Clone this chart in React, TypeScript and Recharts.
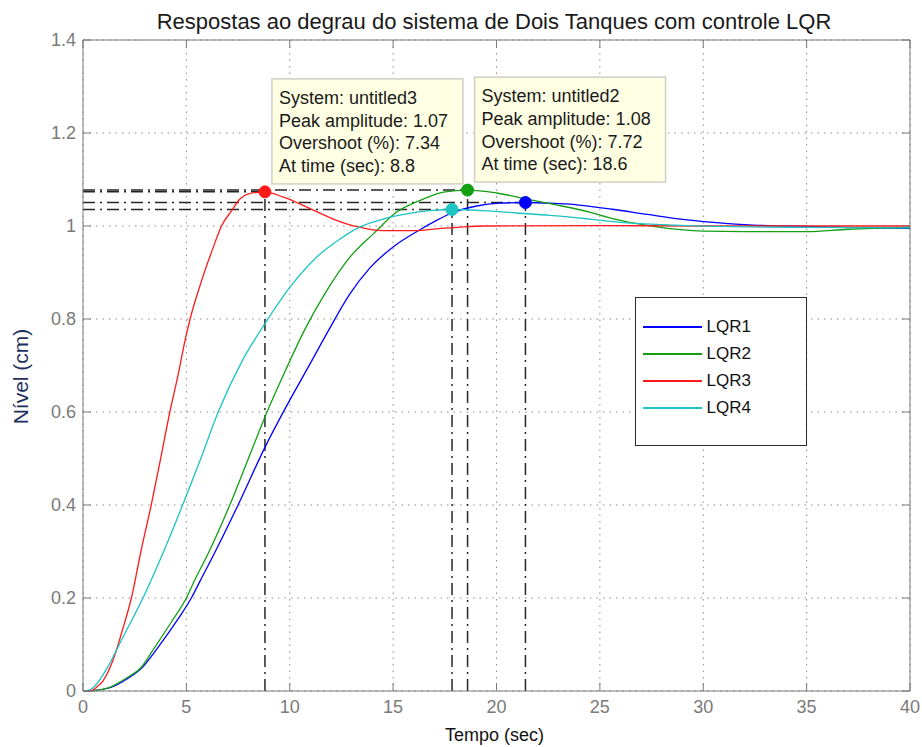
import {
  ComposedChart, Line, XAxis, YAxis, CartesianGrid, ReferenceLine, ReferenceDot, Legend,
} from 'recharts';

const FONT = '"Liberation Sans", Arial, Helvetica, sans-serif';
const PLOT = { left: 83, right: 910, top: 40, bottom: 691 };

const timeTicks = [0, 5, 10, 15, 20, 25, 30, 35, 40];
const levelTicks = [0, 0.2, 0.4, 0.6, 0.8, 1, 1.2, 1.4];

// step responses, [time (s), level (cm)]
const lqr1: [number, number][] = [
  [0, 0], [0.5, 0.001], [1.3, 0.007], [2.2, 0.028], [2.85, 0.05], [3.63, 0.094], [4.6, 0.155],
  [5.24, 0.2], [5.68, 0.238], [6.4, 0.3], [7.5, 0.4], [8.8, 0.524], [9.75, 0.605], [11, 0.705],
  [11.87, 0.775], [12.91, 0.854], [13.88, 0.91], [15, 0.955], [16.3, 0.992], [17.1, 1.012],
  [17.9, 1.029], [19.04, 1.043], [20.17, 1.049], [21.4, 1.0505], [22.59, 1.049], [24, 1.045],
  [25.6, 1.036], [27.3, 1.025], [28.9, 1.015], [30.5, 1.008], [32.4, 1.002], [34, 1.0],
  [36, 0.998], [38, 0.996], [40, 0.995],
];
const lqr2: [number, number][] = [
  [0, 0], [0.5, 0.001], [1.29, 0.008], [2.18, 0.03], [2.8, 0.05], [3.47, 0.094], [4.3, 0.15],
  [5, 0.2], [5.4, 0.238], [6.1, 0.3], [7.1, 0.4], [8, 0.5], [8.9, 0.6], [9.8, 0.69], [10.7, 0.775],
  [11.79, 0.861], [12.91, 0.933], [14.04, 0.983], [15.17, 1.03], [16.46, 1.058], [17.43, 1.073],
  [18.6, 1.0772], [20, 1.071], [21.46, 1.058], [22.59, 1.048], [24.5, 1.03], [25.6, 1.016],
  [26.8, 1.005], [27.9, 0.997], [28.9, 0.992], [30, 0.989], [32, 0.988], [35, 0.988],
  [37, 0.993], [40, 0.997],
];
const lqr3: [number, number][] = [
  [0, 0], [0.35, 0], [0.65, 0.008], [0.97, 0.022], [1.45, 0.066], [1.9, 0.13], [2.34, 0.2],
  [2.8, 0.3], [3.3, 0.4], [3.8, 0.51], [4.2, 0.6], [4.6, 0.68], [4.93, 0.753], [5.18, 0.8],
  [5.74, 0.883], [6.3, 0.954], [6.7, 1.0], [7.19, 1.033], [7.59, 1.058], [8, 1.069], [8.8, 1.0734],
  [9.7, 1.062], [11, 1.037], [12.1, 1.015], [13.2, 0.999], [14.5, 0.99], [16.1, 0.99],
  [17.1, 0.994], [18.1, 0.997], [19.4, 1.0], [25, 1.001], [30, 1.0], [40, 1.0],
];
const lqr4: [number, number][] = [
  [0, 0], [0.3, 0.002], [0.6, 0.012], [1.2, 0.052], [1.9, 0.113], [2.9, 0.2], [3.9, 0.3],
  [4.82, 0.4], [5.7, 0.5], [6.54, 0.6], [7.7, 0.71], [8.8, 0.79], [10, 0.868], [11.3, 0.933],
  [12.43, 0.972], [13.4, 0.998], [14.52, 1.015], [15.65, 1.026], [16.78, 1.033], [17.85, 1.0355],
  [19.36, 1.033], [20.97, 1.028], [22.59, 1.023], [24.5, 1.015], [26, 1.008], [28, 1.003],
  [31, 0.999], [35, 0.997], [40, 0.996],
];

const names = ['LQR1', 'LQR2', 'LQR3', 'LQR4'];
const systems = ['untitled1', 'untitled2', 'untitled3', 'untitled4'];
const colors = ['#0000ff', '#12a012', '#ff1a1a', '#1cc4c4'];
const peakTimes = [21.4, 18.6, 8.8, 17.85];
const peakLevels = [1.0505, 1.0772, 1.0734, 1.0355];
const showTip = [false, true, true, false];

const series = [lqr1, lqr2, lqr3, lqr4].map((pts, i) => ({
  name: names[i],
  system: systems[i],
  color: colors[i],
  data: pts.map(([t, y]) => ({ t, y })),
  peakT: peakTimes[i],
  peakY: peakLevels[i],
  tip: showTip[i],
}));

const XTick = ({ x, payload }: any) => (
  <g>
    <line x1={x} x2={x} y1={PLOT.bottom} y2={PLOT.bottom - 8} stroke="#7a7a7a" />
    <line x1={x} x2={x} y1={PLOT.top} y2={PLOT.top + 8} stroke="#7a7a7a" />
    <text x={x} y={PLOT.bottom + 22} textAnchor="middle" fontSize={18} fill="#7a7a7a" fontFamily={FONT}>
      {payload.value}
    </text>
  </g>
);

const YTick = ({ y, payload }: any) => (
  <g>
    <line x1={PLOT.left} x2={PLOT.left + 8} y1={y} y2={y} stroke="#7a7a7a" />
    <line x1={PLOT.right} x2={PLOT.right - 8} y1={y} y2={y} stroke="#7a7a7a" />
    <text x={PLOT.left - 7} y={y} dy="0.36em" textAnchor="end" fontSize={18} fill="#7a7a7a" fontFamily={FONT}>
      {payload.value}
    </text>
  </g>
);

// yellow data-tip box anchored up-right of the peak marker
const DataTip = ({ viewBox, s }: any) => {
  const cx = viewBox.x + viewBox.width / 2;
  const cy = viewBox.y + viewBox.height / 2;
  const w = 191;
  const h = 105;
  const left = cx + 7;
  const top = cy - 8 - h;
  const rows = [
    `System: ${s.system}`,
    `Peak amplitude: ${s.peakY.toFixed(2)}`,
    `Overshoot (%): ${((s.peakY - 1) * 100).toFixed(2)}`,
    `At time (sec): ${s.peakT}`,
  ];
  return (
    <g>
      <rect x={left} y={top} width={w} height={h} fill="#ffffe3" stroke="#cfcfc4" strokeWidth={1.5} />
      {rows.map((r, i) => (
        <text key={i} x={left + 7} y={top + 25 + i * 22.7} fontSize={18} fill="#1a1a1a" fontFamily={FONT}>
          {r}
        </text>
      ))}
    </g>
  );
};

const LegendBox = () => (
  <div style={{
    width: 172, height: 149, boxSizing: 'border-box', border: '1.5px solid #2a2a2a',
    background: '#fff', paddingTop: 15, fontFamily: FONT,
  }}>
    {series.map((s) => (
      <div key={s.name} style={{ display: 'flex', alignItems: 'center', height: 27 }}>
        <div style={{ marginLeft: 6.5, width: 59, height: 2, background: s.color }} />
        <span style={{ marginLeft: 5, fontSize: 17, color: '#111', lineHeight: '27px' }}>{s.name}</span>
      </div>
    ))}
  </div>
);

export default function App() {
  const dashed = '12 5 2 5';
  return (
    <div style={{ position: 'absolute', left: 0, top: 0, width: 922, height: 747, background: '#fff' }}>
      <ComposedChart width={922} height={747} margin={{ top: 40, right: 12, bottom: 0, left: 0 }}>
        <CartesianGrid stroke="#8c8c8c" strokeDasharray="1.5 5" />
        <XAxis
          type="number" dataKey="t" domain={[0, 40]} ticks={timeTicks} height={56}
          stroke="#7a7a7a" tickLine={false} tickSize={0} tickMargin={0} tick={<XTick />}
          allowDuplicatedCategory={false}
        />
        <YAxis
          type="number" domain={[0, 1.4]} ticks={levelTicks} width={83}
          stroke="#7a7a7a" tickLine={false} tickSize={0} tickMargin={0} tick={<YTick />}
        />
        <ReferenceLine y={1.4} stroke="#7a7a7a" />
        <ReferenceLine x={40} stroke="#7a7a7a" />
        {series.map((s) => (
          <ReferenceLine key={s.name + 'h'} segment={[{ x: 0, y: s.peakY }, { x: s.peakT, y: s.peakY }]}
            stroke="#262626" strokeWidth={1.5} strokeDasharray={dashed} />
        ))}
        {series.map((s) => (
          <ReferenceLine key={s.name + 'v'} segment={[{ x: s.peakT, y: 0 }, { x: s.peakT, y: s.peakY }]}
            stroke="#262626" strokeWidth={1.5} strokeDasharray={dashed} />
        ))}
        {series.map((s) => (
          <Line key={s.name} data={s.data} dataKey="y" name={s.name} type="monotone"
            stroke={s.color} strokeWidth={1.3} dot={false} isAnimationActive={false} />
        ))}
        {series.map((s) => (
          <ReferenceDot key={s.name + 'p'} x={s.peakT} y={s.peakY} r={6} fill={s.color} stroke={s.color}
            label={s.tip ? (p: any) => <DataTip {...p} s={s} /> : undefined} />
        ))}
        <Legend layout="vertical" align="center" verticalAlign="middle" content={() => <LegendBox />}
          wrapperStyle={{ left: 635, top: 297, width: 172, height: 149 }} />
      </ComposedChart>
      <svg width={922} height={747} style={{ position: 'absolute', left: 0, top: 0, pointerEvents: 'none' }}>
        <text x={494} y={29} textAnchor="middle" fontSize={22} fill="#1a1a1a" fontFamily={FONT}>
          Respostas ao degrau do sistema de Dois Tanques com controle LQR
        </text>
        <text x={494.5} y={741} textAnchor="middle" fontSize={18} fill="#111" fontFamily={FONT}>
          Tempo (sec)
        </text>
        <text transform="translate(28,376.5) rotate(-90)" textAnchor="middle" fontSize={21} fill="#1f2f5e" fontFamily={FONT}>
          Nível (cm)
        </text>
      </svg>
    </div>
  );
}
